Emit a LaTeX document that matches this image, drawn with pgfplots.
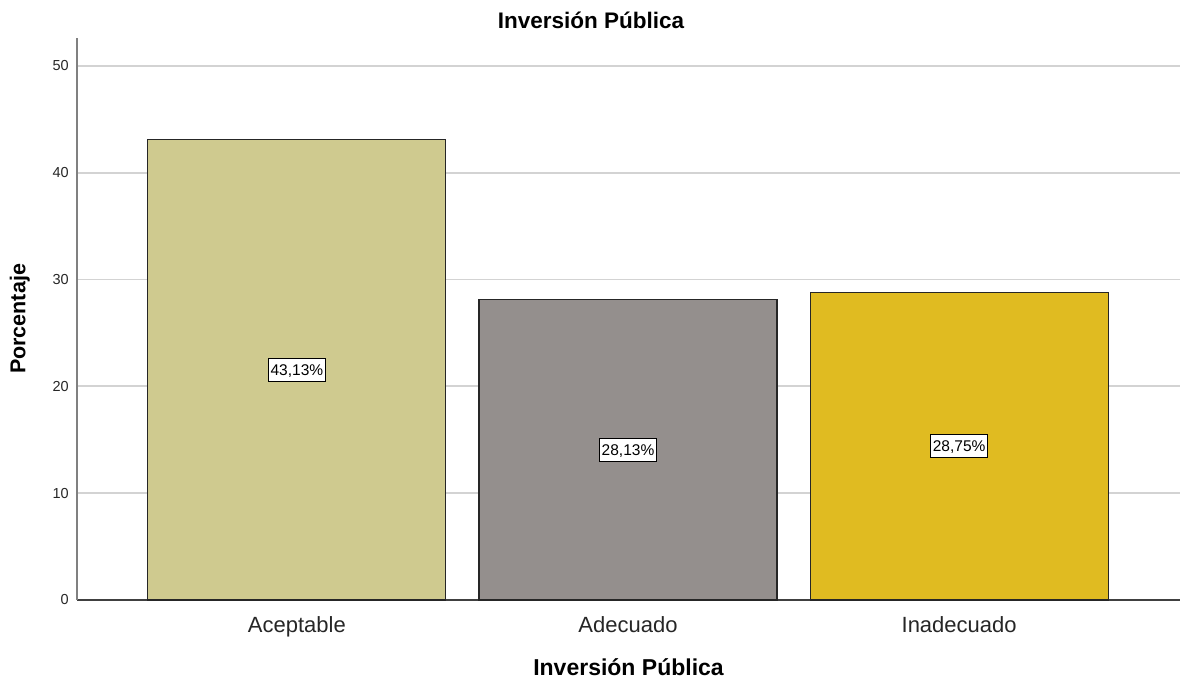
\documentclass[border=0pt]{standalone}
\usepackage{pgfplots}
\pgfplotsset{compat=1.18}
\usepackage{pgfplotstable}
\usepackage{fontspec}
\setmainfont{Liberation Sans}

\definecolor{barA}{HTML}{CFCA8F}
\definecolor{barB}{HTML}{948F8D}
\definecolor{barC}{HTML}{E0BB21}
\definecolor{gridgray}{HTML}{D3D3D3}

% Porcentaje por categoría
\pgfplotstableread{
x y
0 43.13
1 28.13
2 28.75
}\datatable

\begin{document}
\begin{tikzpicture}
\useasboundingbox (0,0) rectangle (1182pt,679pt);
\begin{axis}[
  at={(77pt,79pt)}, anchor=south west,
  scale only axis,
  width=1103pt, height=562pt,
  xmin=-0.664, xmax=2.667,
  ymin=0, ymax=52.6,
  axis x line*=bottom, axis y line*=left,
  x axis line style={draw=black!75, line width=1.2pt, -},
  y axis line style={draw=black!50, line width=1.4pt, -},
  xtick={0,1,2},
  xticklabels={Aceptable,Adecuado,Inadecuado},
  ytick={0,10,20,30,40,50},
  major tick length=0pt,
  ymajorgrids,
  major grid style={draw=gridgray, line width=1.8pt},
  xticklabel style={font=\fontsize{22}{26}\selectfont, text=black!85, anchor=base, yshift=-32pt},
  yticklabel style={font=\fontsize{14.5}{17}\selectfont, text=black!85, anchor=east, inner sep=0pt, xshift=-8pt},
  /pgf/number format/assume math mode=true,
  title={Inversión Pública},
  title style={font=\bfseries\fontsize{22.5}{26}\selectfont, at={(rel axis cs:0.466,1)}, anchor=base, yshift=3pt, inner sep=0pt},
  xlabel={Inversión Pública},
  xlabel style={font=\bfseries\fontsize{23}{27}\selectfont, at={(axis description cs:0.5,0)}, anchor=base, yshift=-75pt, inner sep=0pt},
  ylabel={Porcentaje},
  ylabel style={font=\bfseries\fontsize{21.5}{25}\selectfont, at={(axis description cs:0,0.5)}, anchor=south, yshift=47pt, inner sep=0pt},
  ybar, bar width=0.9, bar shift=0pt,
  clip=false,
]
\addplot[fill=barA, draw=black!85, line width=1.1pt] table[x=x, y=y, restrict x to domain=-0.1:0.1] {\datatable};
\addplot[fill=barB, draw=black!85, line width=1.1pt] table[x=x, y=y, restrict x to domain=0.9:1.1] {\datatable};
\addplot[fill=barC, draw=black!85, line width=1.1pt] table[x=x, y=y, restrict x to domain=1.9:2.1] {\datatable};
% value labels at mid-height of each bar
\addplot[only marks, mark=none, draw=none,
  nodes near coords={\pgfmathprintnumber[fixed, fixed zerofill, precision=2, use comma, assume math mode=true]{\pgfplotspointmeta}\%},
  nodes near coords align={center},
  every node near coord/.append style={anchor=center, fill=white, draw=black, line width=0.9pt,
    font=\fontsize{15.5}{18}\selectfont, inner xsep=2.5pt, inner ysep=6pt, text height=11pt, text depth=0pt},
  point meta=explicit]
  table[x=x, y expr=\thisrow{y}/2, meta=y] {\datatable};
\end{axis}
\end{tikzpicture}
\end{document}
